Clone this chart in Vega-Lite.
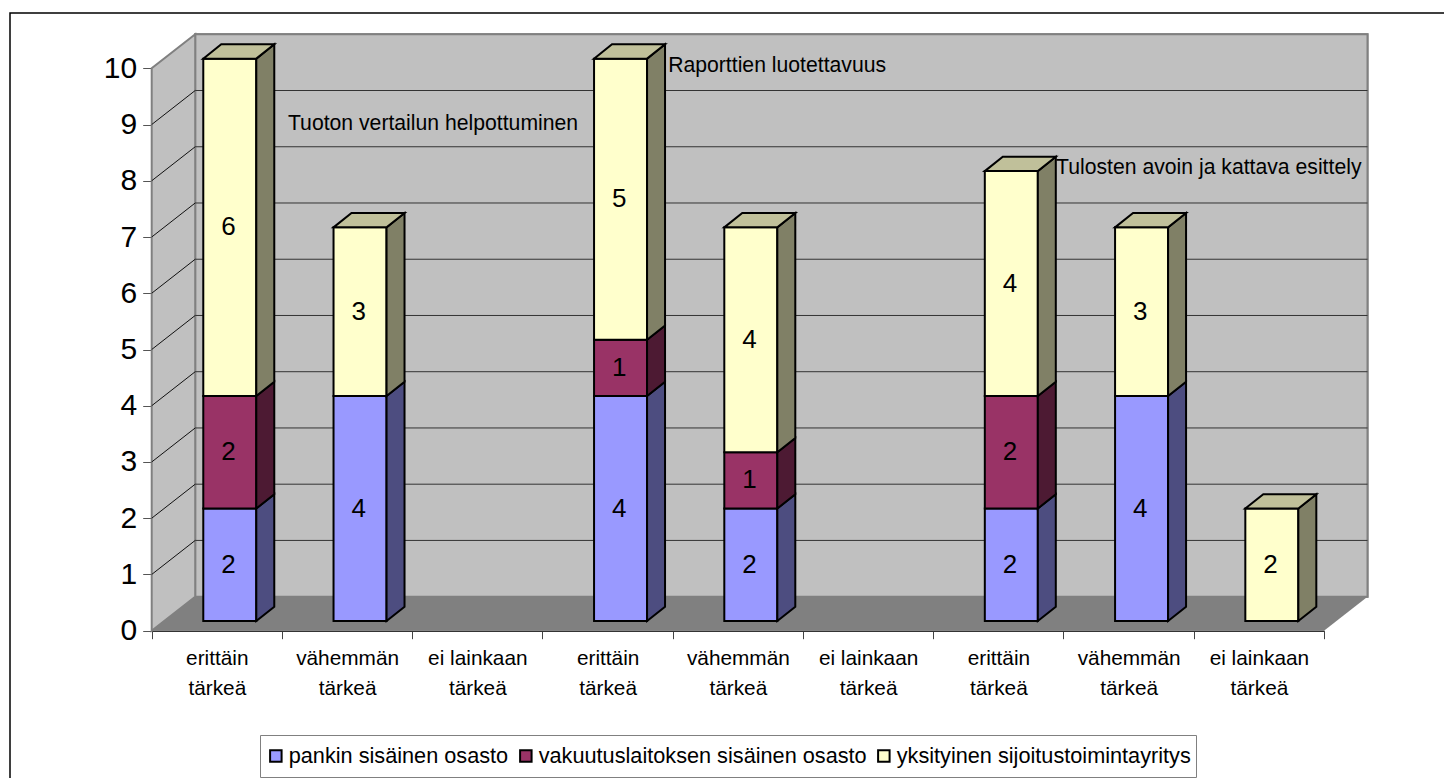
{
  "$schema": "https://vega.github.io/schema/vega-lite/v6.json",
  "autosize": {"type": "none"},
  "width": 1436,
  "height": 767,
  "padding": {"left": 10, "top": 13, "right": -2, "bottom": -2},
  "background": "#ffffff",
  "view": {"stroke": "#000000", "strokeWidth": 1.5, "fill": "#ffffff"},
  "config": {
    "font": "Liberation Sans",
    "axis": {"title": null, "grid": false, "zindex": 1}
  },
  "datasets": {
    "answers": [
      {"slot": 0, "importance": "erittäin tärkeä", "series": "pankin sisäinen osasto", "count": 2},
      {"slot": 0, "importance": "erittäin tärkeä", "series": "vakuutuslaitoksen sisäinen osasto", "count": 2},
      {"slot": 0, "importance": "erittäin tärkeä", "series": "yksityinen sijoitustoimintayritys", "count": 6},
      {"slot": 1, "importance": "vähemmän tärkeä", "series": "pankin sisäinen osasto", "count": 4},
      {"slot": 1, "importance": "vähemmän tärkeä", "series": "yksityinen sijoitustoimintayritys", "count": 3},
      {"slot": 3, "importance": "erittäin tärkeä", "series": "pankin sisäinen osasto", "count": 4},
      {"slot": 3, "importance": "erittäin tärkeä", "series": "vakuutuslaitoksen sisäinen osasto", "count": 1},
      {"slot": 3, "importance": "erittäin tärkeä", "series": "yksityinen sijoitustoimintayritys", "count": 5},
      {"slot": 4, "importance": "vähemmän tärkeä", "series": "pankin sisäinen osasto", "count": 2},
      {"slot": 4, "importance": "vähemmän tärkeä", "series": "vakuutuslaitoksen sisäinen osasto", "count": 1},
      {"slot": 4, "importance": "vähemmän tärkeä", "series": "yksityinen sijoitustoimintayritys", "count": 4},
      {"slot": 6, "importance": "erittäin tärkeä", "series": "pankin sisäinen osasto", "count": 2},
      {"slot": 6, "importance": "erittäin tärkeä", "series": "vakuutuslaitoksen sisäinen osasto", "count": 2},
      {"slot": 6, "importance": "erittäin tärkeä", "series": "yksityinen sijoitustoimintayritys", "count": 4},
      {"slot": 7, "importance": "vähemmän tärkeä", "series": "pankin sisäinen osasto", "count": 4},
      {"slot": 7, "importance": "vähemmän tärkeä", "series": "yksityinen sijoitustoimintayritys", "count": 3},
      {"slot": 8, "importance": "ei lainkaan tärkeä", "series": "yksityinen sijoitustoimintayritys", "count": 2}
    ],
    "corners": [{"corner": 0}, {"corner": 1}, {"corner": 2}, {"corner": 3}],
    "edges": [{"edge": 0}, {"edge": 1}],
    "levels": [
      {"level": 1}, {"level": 2}, {"level": 3}, {"level": 4}, {"level": 5},
      {"level": 6}, {"level": 7}, {"level": 8}, {"level": 9}, {"level": 10}
    ]
  },
  "layer": [
    {
      "description": "Back wall of the 3D box",
      "data": {"name": "edges"},
      "mark": {"type": "rect", "fill": "#C0C0C0", "stroke": "#808080", "strokeWidth": 2},
      "encoding": {
        "x": {"datum": 0.334, "type": "quantitative", "scale": {"domain": [0, 9], "range": [141.7, 1314]}, "axis": null},
        "x2": {"datum": 9.334},
        "y": {"datum": 0.605, "type": "quantitative", "scale": {"domain": [0, 10], "range": [617.7, 55.3]}, "axis": null},
        "y2": {"datum": 10.605}
      }
    },
    {
      "description": "Left wall of the 3D box",
      "data": {"name": "edges"},
      "transform": [
        {"calculate": "datum.edge * 0.334", "as": "px"},
        {"calculate": "datum.edge * 0.605", "as": "lo"},
        {"calculate": "10 + datum.edge * 0.605", "as": "hi"}
      ],
      "mark": {"type": "area", "fill": "#C0C0C0", "stroke": "#808080", "strokeWidth": 2, "orient": "vertical"},
      "encoding": {
        "x": {"field": "px", "type": "quantitative", "axis": null},
        "y": {"field": "lo", "type": "quantitative", "axis": null},
        "y2": {"field": "hi"}
      }
    },
    {
      "description": "Floor of the 3D box",
      "data": {"name": "corners"},
      "transform": [
        {"calculate": "[0, 0.334, 9, 9.334][datum.corner]", "as": "px"},
        {"calculate": "[0, 0, 0, 0.605][datum.corner]", "as": "lo"},
        {"calculate": "[0, 0.605, 0.605, 0.605][datum.corner]", "as": "hi"}
      ],
      "mark": {"type": "area", "fill": "#808080", "orient": "vertical"},
      "encoding": {
        "x": {"field": "px", "type": "quantitative", "axis": null},
        "y": {"field": "lo", "type": "quantitative", "axis": null},
        "y2": {"field": "hi"}
      }
    },
    {
      "description": "Gridlines on the back wall",
      "data": {"name": "levels"},
      "transform": [
        {"filter": "datum.level < 10"},
        {"calculate": "datum.level + 0.605", "as": "raised"}
      ],
      "mark": {"type": "rule", "stroke": "#333333", "strokeWidth": 1},
      "encoding": {
        "x": {"datum": 0.334, "type": "quantitative", "axis": null},
        "x2": {"datum": 9.334},
        "y": {"field": "raised", "type": "quantitative", "axis": null}
      }
    },
    {
      "description": "Gridlines running across the left wall",
      "data": {"name": "levels"},
      "transform": [
        {"filter": "datum.level < 10"},
        {"calculate": "datum.level + 0.605", "as": "raised"}
      ],
      "mark": {"type": "rule", "stroke": "#111111", "strokeWidth": 1},
      "encoding": {
        "x": {"datum": 0, "type": "quantitative", "axis": null},
        "x2": {"datum": 0.334},
        "y": {"field": "level", "type": "quantitative", "axis": null},
        "y2": {"field": "raised"}
      }
    },
    {
      "description": "Front faces of the stacked columns",
      "data": {"name": "answers"},
      "transform": [
        {"stack": "count", "groupby": ["slot"], "sort": [{"field": "series", "order": "ascending"}], "as": ["low", "high"]},
        {"calculate": "datum.slot + 0.396", "as": "left"},
        {"calculate": "datum.slot + 0.803", "as": "right"},
        {"calculate": "datum.low + 0.172", "as": "bottom"},
        {"calculate": "datum.high + 0.172", "as": "top"}
      ],
      "mark": {"type": "rect", "stroke": "#000000", "strokeWidth": 2},
      "encoding": {
        "x": {"field": "left", "type": "quantitative", "axis": null},
        "x2": {"field": "right"},
        "y": {"field": "bottom", "type": "quantitative", "axis": null},
        "y2": {"field": "top"},
        "color": {
          "field": "series",
          "type": "nominal",
          "scale": {
            "domain": ["pankin sisäinen osasto", "vakuutuslaitoksen sisäinen osasto", "yksityinen sijoitustoimintayritys"],
            "range": ["#9999FF", "#993366", "#FFFFCC"]
          },
          "legend": {
            "title": null,
            "orient": "none",
            "legendX": 250,
            "legendY": 722,
            "direction": "horizontal",
            "columns": 3,
            "columnPadding": 6,
            "padding": 5,
            "clipHeight": 32,
            "fillColor": "#ffffff",
            "strokeColor": "#808080",
            "symbolType": "square",
            "symbolSize": 132,
            "symbolStrokeColor": "#000000",
            "symbolStrokeWidth": 2,
            "symbolOpacity": 1,
            "labelFontSize": 21.7,
            "labelColor": "#000000",
            "labelLimit": 450,
            "labelOffset": 2
          }
        }
      }
    },
    {
      "description": "Shaded side faces of the columns",
      "data": {"name": "answers"},
      "transform": [
        {"stack": "count", "groupby": ["slot"], "sort": [{"field": "series", "order": "ascending"}], "as": ["low", "high"]},
        {"calculate": "[0, 1]", "as": "edge"},
        {"flatten": ["edge"]},
        {"calculate": "datum.slot + 0.803 + datum.edge * 0.138", "as": "px"},
        {"calculate": "datum.low + 0.172 + datum.edge * 0.254", "as": "lo"},
        {"calculate": "datum.high + 0.172 + datum.edge * 0.254", "as": "hi"},
        {"calculate": "datum.slot + '|' + datum.series", "as": "face"}
      ],
      "mark": {"type": "area", "stroke": "#000000", "strokeWidth": 2, "orient": "vertical"},
      "encoding": {
        "x": {"field": "px", "type": "quantitative", "axis": null},
        "y": {"field": "lo", "type": "quantitative", "axis": null},
        "y2": {"field": "hi"},
        "detail": {"field": "face"},
        "fill": {
          "field": "series",
          "type": "nominal",
          "legend": null,
          "scale": {
            "domain": ["pankin sisäinen osasto", "vakuutuslaitoksen sisäinen osasto", "yksityinen sijoitustoimintayritys"],
            "range": ["#4D4D80", "#4D1A33", "#808066"]
          }
        }
      }
    },
    {
      "description": "Lit top faces of the columns",
      "data": {"name": "answers"},
      "transform": [
        {"stack": "count", "groupby": ["slot"], "sort": [{"field": "series", "order": "ascending"}], "as": ["low", "high"]},
        {"filter": "datum.series === 'yksityinen sijoitustoimintayritys'"},
        {"calculate": "[0, 1, 2, 3]", "as": "corner"},
        {"flatten": ["corner"]},
        {"calculate": "datum.slot + 0.396 + [0, 0.138, 0.407, 0.545][datum.corner]", "as": "px"},
        {"calculate": "datum.high + 0.172 + [0, 0, 0, 0.254][datum.corner]", "as": "lo"},
        {"calculate": "datum.high + 0.172 + [0, 0.254, 0.254, 0.254][datum.corner]", "as": "hi"}
      ],
      "mark": {"type": "area", "fill": "#C0C09A", "stroke": "#000000", "strokeWidth": 2, "orient": "vertical"},
      "encoding": {
        "x": {"field": "px", "type": "quantitative", "axis": null},
        "y": {"field": "lo", "type": "quantitative", "axis": null},
        "y2": {"field": "hi"},
        "detail": {"field": "slot"}
      }
    },
    {
      "description": "Value labels centred on the front faces",
      "data": {"name": "answers"},
      "transform": [
        {"stack": "count", "groupby": ["slot"], "sort": [{"field": "series", "order": "ascending"}], "as": ["low", "high"]},
        {"calculate": "datum.slot + 0.59", "as": "mid"},
        {"calculate": "(datum.low + datum.high) / 2 + 0.172", "as": "level"}
      ],
      "mark": {"type": "text", "fontSize": 26, "color": "#000000", "align": "center", "baseline": "middle"},
      "encoding": {
        "x": {"field": "mid", "type": "quantitative", "axis": null},
        "y": {"field": "level", "type": "quantitative", "axis": null},
        "text": {"field": "count", "type": "quantitative"}
      }
    },
    {
      "data": {"values": [{"title": "Tuoton vertailun helpottuminen"}]},
      "mark": {"type": "text", "fontSize": 21.2, "color": "#000000", "align": "left", "baseline": "middle"},
      "encoding": {
        "x": {"datum": 1.046, "type": "quantitative", "axis": null},
        "y": {"datum": 9.01, "type": "quantitative", "axis": null},
        "text": {"field": "title"}
      }
    },
    {
      "data": {"values": [{"title": "Raporttien luotettavuus"}]},
      "mark": {"type": "text", "fontSize": 21.2, "color": "#000000", "align": "left", "baseline": "middle"},
      "encoding": {
        "x": {"datum": 3.965, "type": "quantitative", "axis": null},
        "y": {"datum": 10.04, "type": "quantitative", "axis": null},
        "text": {"field": "title"}
      }
    },
    {
      "data": {"values": [{"title": "Tulosten avoin ja kattava esittely"}]},
      "mark": {"type": "text", "fontSize": 21.2, "color": "#000000", "align": "left", "baseline": "middle"},
      "encoding": {
        "x": {"datum": 6.943, "type": "quantitative", "axis": null},
        "y": {"datum": 8.23, "type": "quantitative", "axis": null},
        "text": {"field": "title"}
      }
    },
    {
      "description": "Value axis and the ticks between categories",
      "data": {"name": "edges"},
      "mark": {"type": "rule", "opacity": 0},
      "encoding": {
        "x": {
          "datum": 0,
          "type": "quantitative",
          "axis": {
            "orient": "bottom",
            "offset": -149.3,
            "values": [0, 1, 2, 3, 4, 5, 6, 7, 8, 9],
            "labels": false,
            "tickSize": 8,
            "tickColor": "#444444",
            "domainColor": "#333333",
            "domainWidth": 1.5
          }
        },
        "y": {
          "datum": 0,
          "type": "quantitative",
          "axis": {
            "orient": "left",
            "offset": -141.7,
            "values": [0, 1, 2, 3, 4, 5, 6, 7, 8, 9, 10],
            "format": "d",
            "tickSize": 9,
            "tickColor": "#555555",
            "domainColor": "#444444",
            "domainWidth": 1.5,
            "labelFontSize": 30,
            "labelColor": "#000000",
            "labelPadding": 6
          }
        }
      }
    },
    {
      "description": "Two-line category labels under each slot",
      "data": {"name": "edges"},
      "mark": {"type": "rule", "opacity": 0},
      "encoding": {
        "x": {
          "datum": 0,
          "type": "quantitative",
          "axis": {
            "orient": "bottom",
            "offset": -149.3,
            "values": [0.5, 1.5, 2.5, 3.5, 4.5, 5.5, 6.5, 7.5, 8.5],
            "domain": false,
            "ticks": false,
            "labelFontSize": 20.8,
            "labelColor": "#000000",
            "labelPadding": 18,
            "labelLineHeight": 30,
            "labelOverlap": false,
            "labelBound": false,
            "labelFlush": false,
            "labelExpr": "[['erittäin', 'tärkeä'], ['vähemmän', 'tärkeä'], ['ei lainkaan', 'tärkeä']][floor(datum.value) % 3]"
          }
        }
      }
    }
  ],
  "resolve": {"axis": {"x": "independent", "y": "independent"}}
}
